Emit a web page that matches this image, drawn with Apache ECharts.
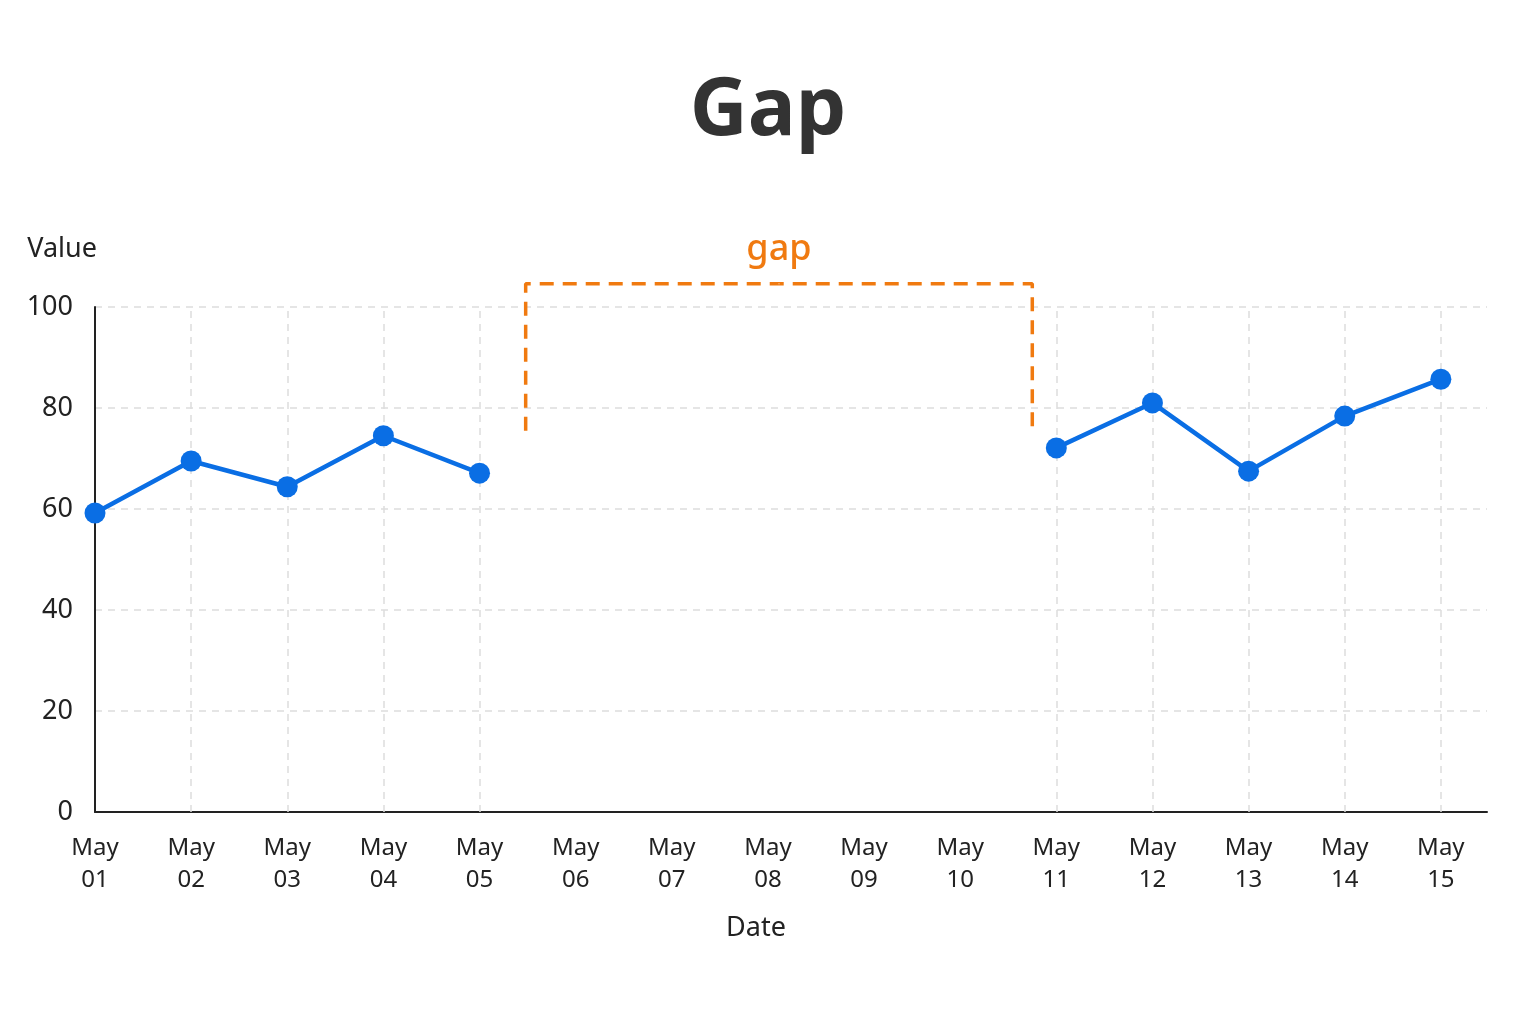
<!DOCTYPE html>
<html style="height: 100%">
<head>
  <meta charset="utf-8">
  <title>Gap</title>
</head>
<body style="height: 100%; margin: 0; background: #fff">
<div id="container" style="width: 1536px; height: 1024px"></div>

<script src="https://cdn.jsdelivr.net/npm/echarts@6/dist/echarts.min.js"></script>
<script type="text/javascript">
  // chart data
  var dates = ['May\n01', 'May\n02', 'May\n03', 'May\n04', 'May\n05', 'May\n06', 'May\n07', 'May\n08',
    'May\n09', 'May\n10', 'May\n11', 'May\n12', 'May\n13', 'May\n14', 'May\n15'];
  var values = [59.2, 69.5, 64.4, 74.5, 67.1, null, null, null, null, null, 72.1, 81.0, 67.5, 78.4, 85.7];
  var yTicks = [0, 20, 40, 60, 80, 100];

  // gap annotation bracket (in data units)
  var gapBracket = { from: 4.48, to: 9.75, bottom: 75.5, top: 104.6, label: 'gap' };

  var font = 'Noto Sans';
  var blue = '#0a6ee4';
  var orange = '#f07a10';

  var dom = document.getElementById('container');
  var myChart = echarts.init(dom);

  var lineData = values.map(function (v, i) { return [i, v]; });
  // vertical grid lines only where there is a value (index 0 sits on the y axis)
  var gridMarks = [];
  values.forEach(function (v, i) {
    if (v != null && i > 0) gridMarks.push({ xAxis: i });
  });

  var option = {
    backgroundColor: '#fff',
    animation: false,
    title: {
      text: 'Gap',
      left: 'center',
      top: 67,
      textStyle: { fontFamily: font, fontSize: 80, fontWeight: 'bold', color: '#333' }
    },
    grid: { left: 95, right: 49, top: 307, bottom: 212, containLabel: false },
    xAxis: {
      type: 'value',
      min: 0,
      max: 14.48,
      interval: 1,
      name: 'Date',
      nameLocation: 'middle',
      nameGap: 103,
      nameTextStyle: { fontFamily: font, fontSize: 27, color: '#222', padding: [0, 70, 0, 0] },
      axisLine: { show: true, onZero: false, lineStyle: { color: '#222', width: 2 } },
      axisTick: { show: false },
      splitLine: { show: false },
      axisLabel: {
        margin: 20,
        fontFamily: font,
        fontSize: 24,
        lineHeight: 32,
        color: '#222',
        showMaxLabel: false,
        formatter: function (v) { return dates[v] || ''; }
      }
    },
    yAxis: {
      type: 'value',
      min: yTicks[0],
      max: yTicks[yTicks.length - 1],
      interval: yTicks[1] - yTicks[0],
      name: 'Value',
      nameGap: 44,
      nameTextStyle: { fontFamily: font, fontSize: 27, color: '#222', align: 'right', padding: [0, -2, 0, 0] },
      axisLine: { show: true, lineStyle: { color: '#222', width: 2 } },
      axisTick: { show: false },
      axisLabel: { margin: 22, fontFamily: font, fontSize: 27, color: '#222' },
      splitLine: { lineStyle: { color: '#ddd', width: 1.5, type: [7, 6] } }
    },
    series: [
      {
        name: 'grid',
        type: 'line',
        data: [],
        silent: true,
        z: 1,
        markLine: {
          silent: true,
          z: 1,
          symbol: 'none',
          label: { show: false },
          lineStyle: { color: '#ddd', width: 1.5, type: [7, 6] },
          data: gridMarks
        }
      },
      {
        name: 'Value',
        type: 'line',
        data: lineData,
        connectNulls: false,
        symbol: 'circle',
        symbolSize: 21,
        z: 5,
        lineStyle: { color: blue, width: 4.5 },
        itemStyle: { color: blue }
      },
      {
        name: 'gap',
        type: 'line',
        clip: false,
        silent: true,
        symbol: 'none',
        z: 4,
        lineStyle: { color: orange, width: 3.5, type: [14, 9] },
        data: [
          [gapBracket.from, gapBracket.bottom],
          [gapBracket.from, gapBracket.top],
          [gapBracket.to, gapBracket.top],
          [gapBracket.to, gapBracket.bottom]
        ]
      },
      {
        name: 'gapLabel',
        type: 'scatter',
        clip: false,
        silent: true,
        symbolSize: 1,
        z: 6,
        itemStyle: { color: '#fff', opacity: 1 },
        label: {
          show: true,
          position: 'top',
          distance: 16,
          formatter: gapBracket.label,
          fontFamily: font,
          fontSize: 36,
          fontWeight: 500,
          color: orange
        },
        data: [[(gapBracket.from + gapBracket.to) / 2, gapBracket.top]]
      }
    ]
  };

  myChart.setOption(option);
</script>
</body>
</html>
